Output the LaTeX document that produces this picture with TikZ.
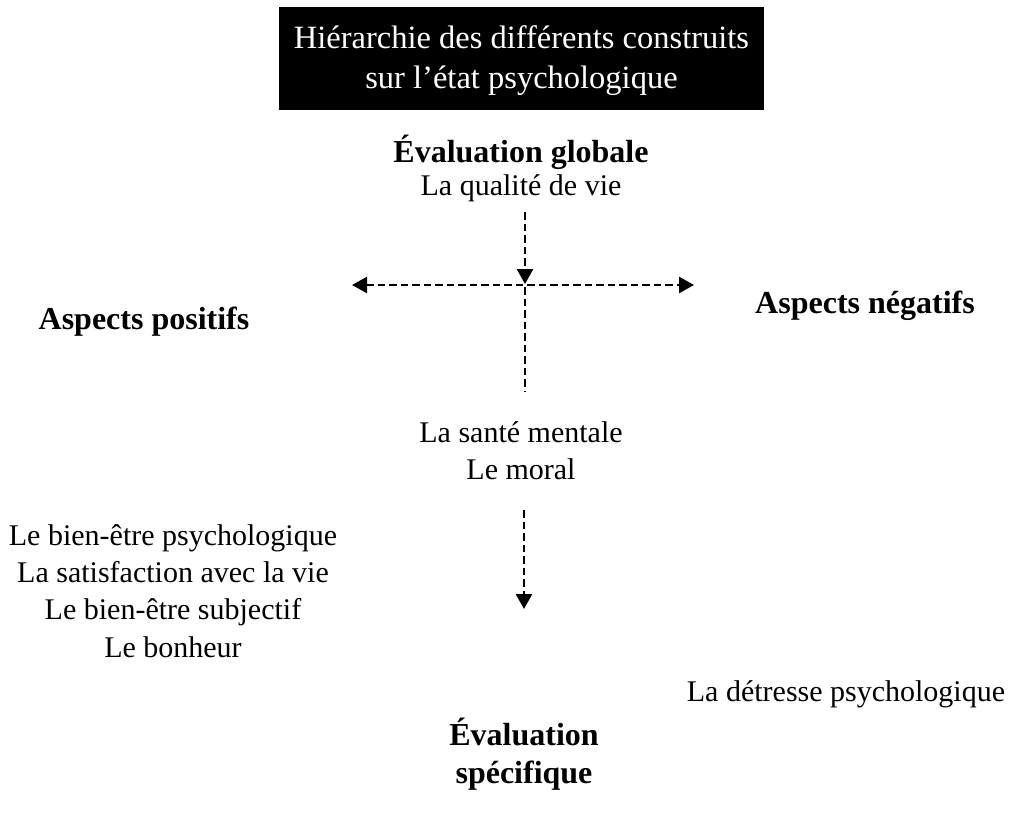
\documentclass[tikz,border=0pt]{standalone}
\usepackage{fontspec}
\setmainfont{Liberation Serif}
\usetikzlibrary{arrows.meta}
\begin{document}
\begin{tikzpicture}[x=1pt,y=-1pt,
  txt/.style={font=\fontsize{30}{37.3}\selectfont, align=center, inner sep=0pt},
  btxt/.style={font=\fontsize{32}{38}\selectfont\bfseries, align=center, inner sep=0pt},
  ttxt/.style={font=\fontsize{32.5}{40}\selectfont, align=center, inner sep=0pt},
  dline/.style={line width=2.5pt, dash pattern=on 7.5pt off 4pt},
  tipdown/.style={dline, -{Triangle[length=15pt,width=16pt]}},
  tipboth/.style={dline, {Triangle[length=15pt,width=16pt]}-{Triangle[length=15pt,width=16pt]}}]
\useasboundingbox (0,0) rectangle (1021,823);
\node[ttxt, fill=black, text=white, minimum width=485pt, minimum height=103pt] (title) at (521.5,58.5) {};
\node[ttxt, text=white] (titletext) at (521.5,60.5)
  {Hiérarchie des différents construits\\sur l’état psychologique};
\node[btxt] (glob) at (521,152) {Évaluation globale};
\node[txt] (qv) at (521,188) {La qualité de vie};
\node[btxt] (pos) at (144,322) {Aspects positifs};
\node[btxt] (neg) at (865,306) {Aspects négatifs};
\node[txt] (sm) at (521,451) {La santé mentale\\Le moral};
\node[txt] (list) at (173,591) {Le bien-être psychologique\\La satisfaction avec la vie\\Le bien-être subjectif\\Le bonheur};
\node[txt] (det) at (846,694) {La détresse psychologique};
\node[btxt] (spec) at (524,754) {Évaluation\\spécifique};
\coordinate (a1s) at (525,212);
\coordinate (cross) at (525,284);
\coordinate (hl) at (352,285);
\coordinate (hr) at (694,285);
\coordinate (vs) at (525,287);
\coordinate (ve) at (525,392);
\coordinate (a3s) at (524,510);
\coordinate (a3e) at (524,609);
\draw[tipdown] (a1s) -- (cross);
\draw[tipboth] (hl) -- (hr);
\draw[dline] (vs) -- (ve);
\draw[tipdown] (a3s) -- (a3e);
\end{tikzpicture}
\end{document}
